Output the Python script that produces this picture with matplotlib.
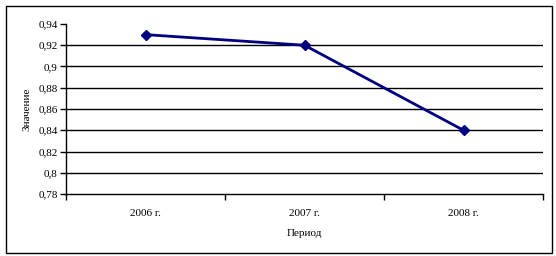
import matplotlib
matplotlib.use("Agg")
import matplotlib.pyplot as plt
from matplotlib.patches import Rectangle

categories = ["2006 г.", "2007 г.", "2008 г."]
values = [0.93, 0.92, 0.84]
yticks = [0.78, 0.80, 0.82, 0.84, 0.86, 0.88, 0.90, 0.92, 0.94]
ytick_labels = ["0,78", "0,8", "0,82", "0,84", "0,86", "0,88", "0,9", "0,92", "0,94"]

plt.rcParams['font.family'] = ['Liberation Serif', 'DejaVu Serif']
fig = plt.figure(figsize=(5.56, 2.56), dpi=100)
W, H = 556, 256
ax = fig.add_axes([66 / W, 1 - 194 / H, (543 - 66) / W, (194 - 24) / H])

fig.patches.append(Rectangle((5.5 / W, 1 - 252.5 / H), 546 / W, 247 / H,
                             transform=fig.transFigure, fill=False,
                             edgecolor='black', linewidth=1))

x = list(range(len(categories)))
ax.plot(x, values, color='#000080', linewidth=2, marker='D', markersize=5,
        markerfacecolor='#000080', markeredgecolor='#000080', zorder=3)

ax.set_xlim(-0.5, len(categories) - 0.5)
ax.set_ylim(0.78, 0.94)
ax.set_yticks(yticks)
ax.set_yticklabels(ytick_labels, fontsize=8)
for yv in yticks[1:-1]:
    ax.axhline(yv, color='black', linewidth=1, zorder=1)

ax.set_xticks(x)
ax.set_xticklabels(categories, fontsize=8)
ax.tick_params(axis='x', which='major', length=0, pad=11)
ax.set_xticks([i - 0.5 for i in range(len(categories) + 1)], minor=True)
ax.tick_params(axis='x', which='minor', length=4, direction='out', width=1)
ax.tick_params(axis='y', length=4, direction='out', width=1, pad=2)

for s in ['top', 'right']:
    ax.spines[s].set_visible(False)
for s in ['left', 'bottom']:
    ax.spines[s].set_linewidth(1)

ax.set_xlabel("Период", fontsize=8, labelpad=8)
ax.set_ylabel("Значение", fontsize=8, labelpad=5)

fig.savefig("out.png", dpi=100)
